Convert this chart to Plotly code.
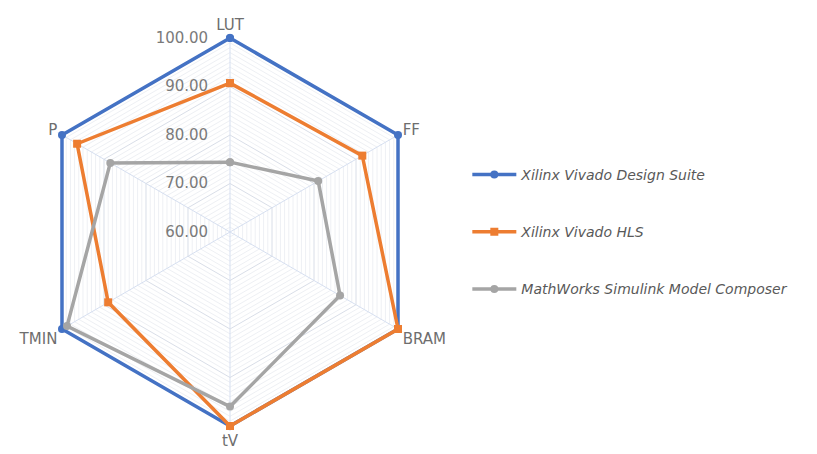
import plotly.graph_objects as go

categories = ["LUT", "FF", "BRAM", "tV", "TMIN", "P"]
vivado_ds = [100.0, 100.0, 100.0, 100.0, 100.0, 100.0]
vivado_hls = [90.7, 91.5, 100.0, 100.0, 89.0, 96.4]
simulink_mc = [74.4, 81.0, 86.2, 96.0, 98.8, 88.5]
series_names = ["Xilinx Vivado Design Suite", "Xilinx Vivado HLS", "MathWorks Simulink Model Composer"]
tick_values = [60, 70, 80, 90, 100]
tick_labels = ["60.00", "70.00", "80.00", "90.00", "100.00"]
minor_values = [v for v in range(60, 101) if v % 10 != 0]

colors = ["#4472C4", "#ED7D31", "#A5A5A5"]
symbols = ["circle", "square", "circle"]

R_MAX = 101
scale = (R_MAX - 60) / 40.0
half = 194 * scale
cx, cy = 230, 232
dom_x = [(cx - half) / 817, (cx + half) / 817]
dom_y = [(454 - cy - half) / 454, (454 - cy + half) / 454]

fig = go.Figure()
# empty trace to host the minor grid subplot
fig.add_trace(go.Scatterpolar(
    r=[None] * len(categories), theta=categories, subplot="polar",
    mode="lines", showlegend=False, hoverinfo="skip",
))
for i, (name, vals) in enumerate(zip(series_names, [vivado_ds, vivado_hls, simulink_mc])):
    fig.add_trace(go.Scatterpolar(
        r=vals + [vals[0]],
        theta=categories + [categories[0]],
        subplot="polar2",
        mode="lines+markers",
        name=name,
        legendgroup=name,
        cliponaxis=False,
        line=dict(color=colors[i], width=3.5),
        marker=dict(color=colors[i], size=8, symbol=symbols[i]),
    ))

common_ang = dict(direction="clockwise", rotation=90, type="category",
                  categoryarray=categories, ticks="", showline=False,
                  layer="below traces")

fig.update_layout(
    width=817, height=454,
    margin=dict(l=0, r=0, t=0, b=0),
    paper_bgcolor="white",
    plot_bgcolor="white",
    font=dict(family="DejaVu Sans, sans-serif", color="#595959"),
    polar=dict(
        domain=dict(x=dom_x, y=dom_y),
        bgcolor="white",
        gridshape="linear",
        radialaxis=dict(
            range=[60, R_MAX], tickvals=minor_values, showticklabels=False,
            angle=90, showline=False, ticks="", layer="below traces",
            gridcolor="#EEF0F4", gridwidth=1,
        ),
        angularaxis=dict(showgrid=False, showticklabels=False, **common_ang),
    ),
    polar2=dict(
        domain=dict(x=dom_x, y=dom_y),
        bgcolor="rgba(0,0,0,0)",
        gridshape="linear",
        radialaxis=dict(
            range=[60, R_MAX],
            tickvals=tick_values,
            ticktext=[t + "\u2007\u2007" for t in tick_labels],
            angle=90,
            tickangle=90,
            side="counterclockwise",
            showline=False,
            ticks="",
            layer="below traces",
            gridcolor="#D9DEE8",
            gridwidth=1,
            tickfont=dict(size=15, color="#7A7A7A"),
        ),
        angularaxis=dict(
            gridcolor="#D6DFF0",
            tickfont=dict(size=15, color="#6E6E6E"),
            **common_ang,
        ),
    ),
    legend=dict(
        x=0.572, y=0.489, xanchor="left", yanchor="middle",
        font=dict(size=14, color="#595959", family="DejaVu Sans, sans-serif", style="italic"),
        tracegroupgap=36,
        itemwidth=44,
        bgcolor="rgba(0,0,0,0)",
    ),
)

fig.write_html("out.html")
